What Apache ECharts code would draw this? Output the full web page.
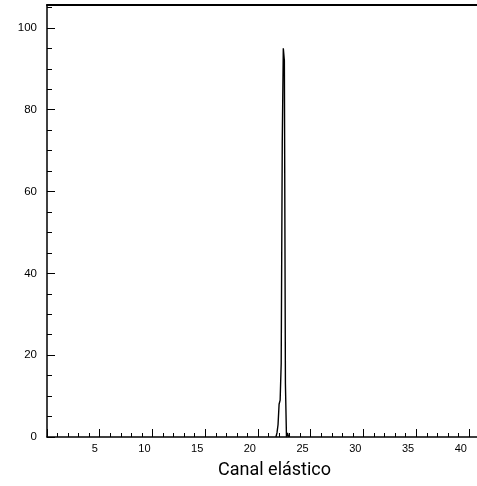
<!DOCTYPE html>
<html><head><meta charset="utf-8">
<script src="https://cdn.jsdelivr.net/npm/echarts@6/dist/echarts.min.js"></script>
<style>html,body{margin:0;padding:0;background:#fff}#c{width:477px;height:486px}</style>
</head><body><div id="c"></div>
<script>
const binStarts = [21.7, 21.8, 21.9, 22.0, 22.1, 22.2, 22.3, 22.4, 22.5, 22.6, 22.7, 22.8, 22.9];
const counts    = [0,    1,    3,    8,    9,    18,   72,   95,   92,   13,   0,    1,    0];
const xTitle = 'Canal elástico';
const xRange = [0, 40.76];
const yRange = [0, 105.6];

const data = binStarts.map((x, i) => [x, counts[i]]);
const chart = echarts.init(document.getElementById('c'));
const tickFont = {fontFamily: 'Liberation Sans', fontSize: 11, color: '#000'};
chart.setOption({
  animation: false,
  title: {text: xTitle, left: 213, top: 456, textStyle: {fontFamily: 'Roboto', fontSize: 18, fontWeight: 'normal', color: '#000'}},
  grid: {left: 47, top: 5, right: 0, bottom: 49},
  xAxis: [{
    type: 'value', min: xRange[0], max: xRange[1], interval: 5, position: 'bottom',
    axisLine: {lineStyle: {color: '#000', width: 1.5}},
    axisTick: {inside: true, length: 8, lineStyle: {color: '#000'}},
    minorTick: {show: true, splitNumber: 5, length: 4, lineStyle: {color: '#000'}},
    splitLine: {show: false},
    axisLabel: Object.assign({showMinLabel: false, showMaxLabel: false, align: 'right', margin: 6, padding: [0, 2, 0, 0]}, tickFont)
  }, {
    type: 'value', min: xRange[0], max: xRange[1], position: 'top',
    axisLine: {show: true, onZero: false, lineStyle: {color: '#000', width: 2}},
    axisTick: {show: false}, axisLabel: {show: false}, splitLine: {show: false}
  }],
  yAxis: {
    type: 'value', min: yRange[0], max: yRange[1], interval: 20,
    axisLine: {show: true, lineStyle: {color: '#000', width: 1.5}},
    axisTick: {inside: true, length: 8, lineStyle: {color: '#000'}},
    minorTick: {show: true, splitNumber: 4, length: 5, lineStyle: {color: '#000'}},
    splitLine: {show: false},
    axisLabel: Object.assign({showMaxLabel: false, margin: 10}, tickFont, {fontSize: 11.5})
  },
  series: [{
    type: 'line', step: 'end', data: data, symbol: 'none',
    lineStyle: {color: '#000', width: 1.4}
  }]
});
</script></body></html>
